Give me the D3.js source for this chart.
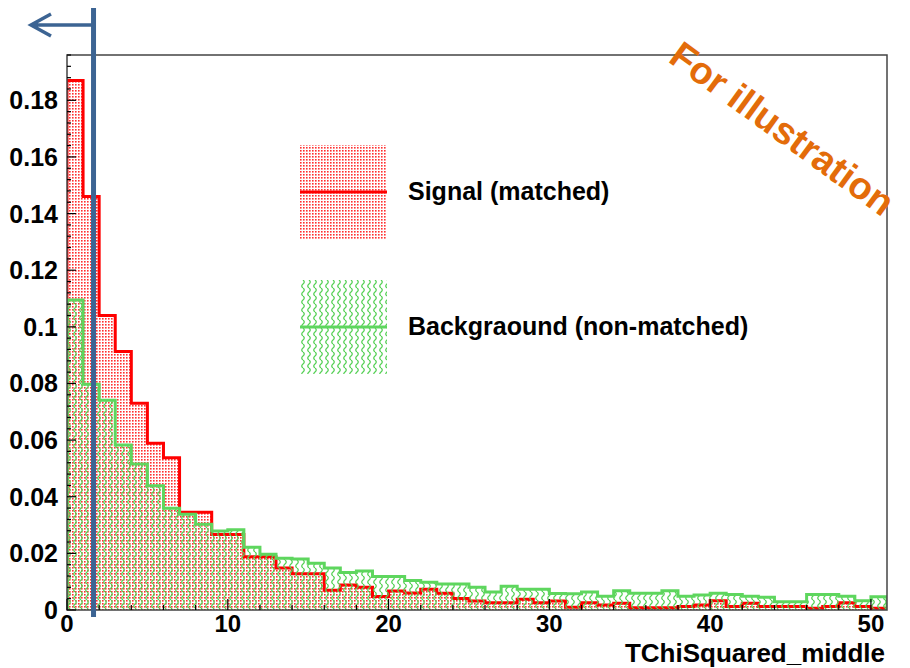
<!DOCTYPE html>
<html>
<head>
<meta charset="utf-8">
<script src="https://cdn.jsdelivr.net/npm/d3@7"></script>
<style>
  body { margin: 0; background: #fff; }
  text { font-family: "Liberation Sans", Arial, sans-serif; font-weight: bold; }
</style>
</head>
<body>
<div></div>
<script>
// bin contents, one bin per unit from 0 to 51
const signal = [0.187, 0.146, 0.104, 0.0913, 0.073, 0.0589, 0.0538, 0.0345, 0.0345, 0.0267,
    0.0267, 0.0188, 0.0188, 0.0148, 0.0128, 0.0128, 0.0070, 0.0088, 0.0080, 0.0048,
    0.0067, 0.0060, 0.0073, 0.0059, 0.0041, 0.0032, 0.0026, 0.0026, 0.0038, 0.0026,
    0.0032, 0.0010, 0.0026, 0.0018, 0.0024, 0.0008, 0.0008, 0.0008, 0.0012, 0.0018,
    0.0033, 0.0012, 0.0024, 0.0012, 0.0012, 0.0012, 0.0006, 0.0012, 0.0026, 0.0012, 0.0006];
const background = [0.1095, 0.0797, 0.0741, 0.0583, 0.0516, 0.0439, 0.0359, 0.0338, 0.0303, 0.0279,
    0.0283, 0.0222, 0.0197, 0.0183, 0.0180, 0.0165, 0.0148, 0.0132, 0.0138, 0.0118,
    0.0118, 0.0104, 0.0098, 0.0092, 0.0092, 0.0080, 0.0064, 0.0084, 0.0073, 0.0073,
    0.0058, 0.0057, 0.0064, 0.0049, 0.0068, 0.0059, 0.0059, 0.0068, 0.0049, 0.0053,
    0.0059, 0.0055, 0.0049, 0.0045, 0.0029, 0.0029, 0.0055, 0.0055, 0.0049, 0.0033, 0.0047];
const xTicks = [0, 10, 20, 30, 40, 50];
const yTicks = [0, 0.02, 0.04, 0.06, 0.08, 0.1, 0.12, 0.14, 0.16, 0.18];
const yTickLabels = ["0", "0.02", "0.04", "0.06", "0.08", "0.1", "0.12", "0.14", "0.16", "0.18"];
const legendNames = ["Signal (matched)", "Backgraound (non-matched)"];
const xTitle = "TChiSquared_middle";
const cutValue = 1.65;

const svg = d3.select("div")
    .append("svg")
    .attr("width", 910)
    .attr("height", 668);

const mLeft = 67, mRight = 887, mTop = 55, mBottom = 610;
const x = d3.scaleLinear().domain([0, 51]).range([mLeft, mRight]);
const y = d3.scaleLinear().domain([0, 0.196]).range([mBottom, mTop]);

const defs = svg.append("defs");

// red dotted fill
const dots = defs.append("pattern")
    .attr("id", "dots")
    .attr("patternUnits", "userSpaceOnUse")
    .attr("width", 3).attr("height", 3);
dots.append("rect").attr("width", 1.6).attr("height", 1.6).attr("fill", "#ff3030");

// green wavy fill
const waves = defs.append("pattern")
    .attr("id", "waves")
    .attr("patternUnits", "userSpaceOnUse")
    .attr("width", 6).attr("height", 8);
waves.append("path")
    .attr("d", "M3 0 Q5.5 2 3 4 Q0.5 6 3 8")
    .attr("fill", "none")
    .attr("stroke", "#55d055")
    .attr("stroke-width", 1.3);

defs.append("clipPath").attr("id", "plot")
    .append("rect")
    .attr("x", mLeft).attr("y", mTop)
    .attr("width", mRight - mLeft).attr("height", mBottom - mTop);

function histPoints(values) {
    let pts = [[0, 0]];
    values.forEach((v, i) => pts.push([i, v]));
    pts.push([values.length, values[values.length - 1]]);
    pts.push([values.length, 0]);
    return pts;
}

const area = d3.area()
    .curve(d3.curveStepAfter)
    .x(d => x(d[0]))
    .y0(y(0))
    .y1(d => y(d[1]));
const line = d3.line()
    .curve(d3.curveStepAfter)
    .x(d => x(d[0]))
    .y(d => y(d[1]));

const plot = svg.append("g").attr("clip-path", "url(#plot)");

const hists = [
    { values: signal, fill: "url(#dots)", stroke: "#ff0000" },
    { values: background, fill: "url(#waves)", stroke: "#5ed65e" }
];
hists.forEach(h => {
    plot.append("path")
        .attr("d", area(histPoints(h.values)))
        .attr("fill", h.fill);
    plot.append("path")
        .attr("d", line(histPoints(h.values)))
        .attr("fill", "none")
        .attr("stroke", h.stroke)
        .attr("stroke-width", 3);
});

// frame
svg.append("rect")
    .attr("x", mLeft).attr("y", mTop)
    .attr("width", mRight - mLeft).attr("height", mBottom - mTop)
    .attr("fill", "none")
    .attr("stroke", "#444")
    .attr("stroke-width", 1.5);

// x axis ticks (inside)
const xAxis = svg.append("g");
d3.range(0, 52, 2).forEach(t => {
    xAxis.append("line")
        .attr("x1", x(t)).attr("x2", x(t))
        .attr("y1", mBottom).attr("y2", mBottom - (t % 10 === 0 ? 11 : 5))
        .attr("stroke", "#000").attr("stroke-width", 1.2);
});
xAxis.selectAll("text")
    .data(xTicks)
    .join("text")
    .attr("x", d => x(d))
    .attr("y", 632)
    .attr("text-anchor", "middle")
    .attr("font-size", 24)
    .text(d => d);

// y axis ticks (inside)
const yAxis = svg.append("g");
d3.range(0, 0.1961, 0.004).forEach((t, i) => {
    yAxis.append("line")
        .attr("x1", mLeft).attr("x2", mLeft + (i % 5 === 0 ? 9 : 4))
        .attr("y1", y(t)).attr("y2", y(t))
        .attr("stroke", "#000").attr("stroke-width", 1.2);
});
yAxis.selectAll("text")
    .data(yTicks)
    .join("text")
    .attr("x", 58)
    .attr("y", d => y(d) + 9)
    .attr("text-anchor", "end")
    .attr("font-size", 25)
    .text((d, i) => yTickLabels[i]);

svg.append("text")
    .attr("x", 885)
    .attr("y", 662)
    .attr("text-anchor", "end")
    .attr("font-size", 26)
    .text(xTitle);

// legend
const legend = svg.append("g");
hists.forEach((h, i) => {
    const top0 = 145 + i * 135;
    legend.append("rect")
        .attr("x", 300).attr("y", top0)
        .attr("width", 87).attr("height", 94)
        .attr("fill", h.fill);
    legend.append("line")
        .attr("x1", 300).attr("x2", 387)
        .attr("y1", top0 + 47).attr("y2", top0 + 47)
        .attr("stroke", h.stroke)
        .attr("stroke-width", 3);
    legend.append("text")
        .attr("x", 408)
        .attr("y", top0 + 55)
        .attr("font-size", 25)
        .text(legendNames[i]);
});

// cut line with arrow
const blue = "#3c6493";
svg.append("line")
    .attr("x1", x(cutValue)).attr("x2", x(cutValue))
    .attr("y1", 8).attr("y2", 617)
    .attr("stroke", blue).attr("stroke-width", 5);
svg.append("path")
    .attr("d", "M" + x(cutValue) + ",25 L31,25 M51,14 L31,25 L51,36")
    .attr("fill", "none")
    .attr("stroke", blue)
    .attr("stroke-width", 3.5);

// watermark
svg.append("text")
    .attr("transform", "translate(667,61) rotate(36)")
    .attr("font-family", "'Open Sans', Lato, sans-serif")
    .attr("font-size", 38)
    .attr("fill", "#e36c0a")
    .text("For illustration");
</script>
</body>
</html>
